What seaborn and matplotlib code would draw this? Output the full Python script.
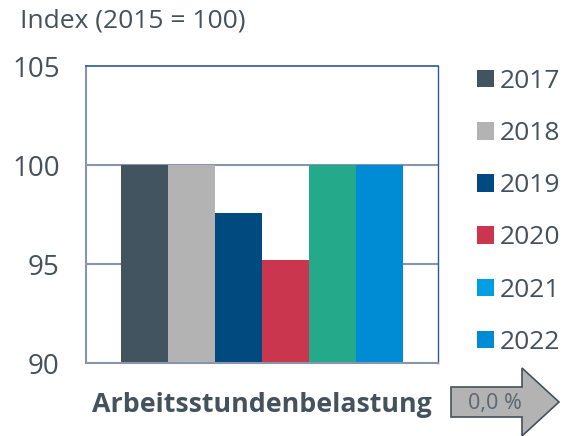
import pandas as pd
import matplotlib.pyplot as plt
import seaborn as sns
from matplotlib.patches import Patch, Polygon

# Data
category = ["Arbeitsstundenbelastung"]
years = ["2017", "2018", "2019", "2020", "2021", "2022"]
values = [100.0, 100.0, 97.6, 95.2, 100.0, 100.0]
bar_colors = ["#435461", "#b3b3b3", "#004a80", "#cb364f", "#24aa8b", "#008cd4"]
legend_colors = ["#435461", "#b3b3b3", "#004a80", "#cb364f", "#009fe3", "#008cd4"]
y_ticks = [90, 95, 100, 105]
change_label = "0,0 %"

text_col = "#44525d"
axis_col = "#8a94ab"
frame_col = "#2a5b8f"

df = pd.DataFrame({
    "category": category * len(years),
    "year": years,
    "value": values,
})

sns.set_style("white")
plt.rcParams["font.family"] = ["Open Sans", "DejaVu Sans"]

fig = plt.figure(figsize=(5.64, 4.36), dpi=100)
ax = fig.add_axes([86 / 564, 1 - 363 / 436, 352 / 564, 297 / 436])

sns.barplot(data=df, x="category", y="value", hue="year", palette=bar_colors,
            width=0.8, dodge=True, legend=False, ax=ax, saturation=1)
for p in ax.patches:
    p.set_edgecolor("none")

ax.set_ylim(90, 105)
ax.set_xlim(-0.5, 0.5)
ax.set_yticks(y_ticks)
ax.set_yticklabels([str(t) for t in y_ticks], fontsize=20, color=text_col)
ax.set_xticks([-0.5, 0.5])
ax.set_xticklabels(["", ""])
ax.tick_params(axis="both", direction="out", length=7, width=1.2, color=axis_col)
ax.tick_params(axis="y", pad=12)
ax.set_xlabel("")
ax.set_ylabel("")

for v in [95, 100]:
    ax.axhline(v, color=axis_col, lw=1.5, zorder=0)

ax.spines["left"].set_color(axis_col)
ax.spines["bottom"].set_color(axis_col)
ax.spines["left"].set_linewidth(1.5)
ax.spines["bottom"].set_linewidth(1.5)
ax.spines["top"].set_color(frame_col)
ax.spines["right"].set_color(frame_col)
ax.spines["top"].set_linewidth(1.2)
ax.spines["right"].set_linewidth(1.0)

fig.text(20 / 564, 1 - 21 / 436, "Index (2015 = 100)", fontsize=19,
         color=text_col, va="center", ha="left")
fig.text(262 / 564, 1 - 405 / 436, category[0], fontsize=19.3,
         fontweight="bold", color=text_col, va="center", ha="center")

handles = [Patch(facecolor=c, edgecolor="none") for c in legend_colors]
fig.legend(handles, years, loc="upper left", bbox_to_anchor=(469 / 564, 1 - 61 / 436),
           frameon=False, fontsize=19, handlelength=0.64, handleheight=0.64,
           handletextpad=0.22, labelspacing=1.03, labelcolor=text_col,
           borderaxespad=0, borderpad=0.3)

# block arrow with the change value
px = [(451, 387), (522, 387), (522, 368), (559, 402), (522, 436),
      (522, 417), (451, 417)]
pts = [(x / 564, 1 - y / 436) for x, y in px]
fig.patches.append(Polygon(pts, closed=True, facecolor="#b3b3b3",
                           edgecolor=text_col, lw=1.2, transform=fig.transFigure))
fig.text(495 / 564, 1 - 403 / 436, change_label, fontsize=15.5, color="#5a6670",
         va="center", ha="center")

fig.savefig("out.png", dpi=100)
